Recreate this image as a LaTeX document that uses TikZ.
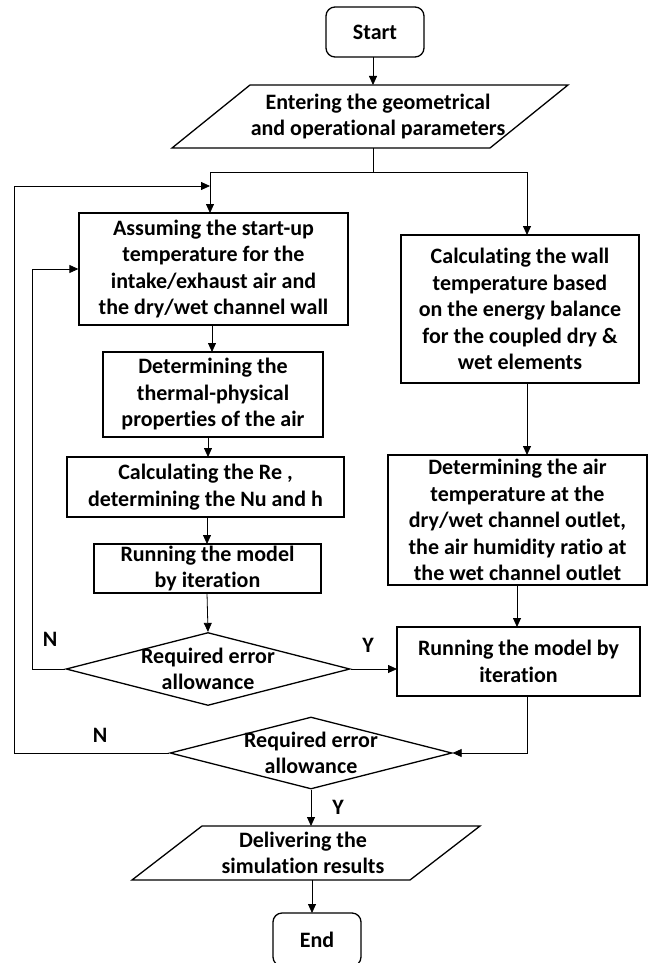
\documentclass[tikz,border=0pt]{standalone}
\usepackage{fontspec}
\setmainfont{Carlito}[Ligatures=NoCommon]
\usetikzlibrary{shapes.geometric,arrows.meta,calc}
\begin{document}
\begin{tikzpicture}[x=1pt,y=-1pt,
  every node/.style={font=\fontsize{22}{26.5}\selectfont\bfseries, align=center, inner sep=0pt},
  term/.style={draw, rounded corners=9pt, line width=1.3pt},
  box/.style={draw, line width=1.3pt},
  shp/.style={draw, line width=1.3pt, line join=miter},
  dia/.style={draw, line width=1.3pt, diamond, aspect=3.9},
  ln/.style={line width=0.8pt},
  arr/.style={line width=0.8pt, -{Triangle[length=9pt,width=8pt]}},
  lab/.style={font=\fontsize{22}{26.5}\selectfont\bfseries}]
\useasboundingbox (0,0) rectangle (653,963);

% left column
\node[term, minimum width=98, minimum height=50] (start) at (375,32) {Start};
\draw[shp] (172,148) -- (250,85) -- (568,85) -- (490,148) -- cycle;
\node[minimum height=63] (enter) at (378,116.5) {Entering the geometrical\\and operational parameters};
\node[box, minimum width=269, minimum height=112] (assume) at (213.5,269)
  {Assuming the start-up\\temperature for the\\intake/exhaust air and\\the dry/wet channel wall};
\node[box, minimum width=220, minimum height=85] (props) at (213,394.5)
  {Determining the\\thermal-physical\\properties of the air};
\node[box, minimum width=277, minimum height=60] (re) at (205.5,487)
  {Calculating the Re ,\\determining the Nu and h};
\node[box, minimum width=227, minimum height=49] (runL) at (207.5,568.5)
  {Running the model\\by iteration};
\node[dia, minimum width=284, minimum height=73,
      label={center:{Required error\\allowance}}] (dia1) at (208,669) {};

% right column
\node[box, minimum width=238, minimum height=148] (wall) at (520,309)
  {Calculating the wall\\temperature based\\on the energy balance\\for the coupled dry \&\\wet elements};
\node[box, minimum width=259, minimum height=130] (air) at (517.5,520)
  {Determining the air\\temperature at the\\dry/wet channel outlet,\\the air humidity ratio at\\the wet channel outlet};
\node[box, minimum width=243, minimum height=69] (runR) at (518.5,661.5)
  {Running the model by\\iteration};

% bottom
\node[dia, minimum width=282, minimum height=72,
      label={center:{Required error\\allowance}}] (dia2) at (311,753) {};
\draw[shp] (132,880) -- (202,826) -- (480,826) -- (410,880) -- cycle;
\node[minimum height=54] (deliver) at (303,853) {Delivering the\\simulation results};
\node[term, minimum width=88, minimum height=53] (end) at (317,939.5) {End};

% labels
\node[lab] (n1) at (50,639) {N};
\node[lab] (y1) at (368,645) {Y};
\node[lab] (n2) at (100,735) {N};
\node[lab] (y2) at (338,807) {Y};

% junction
\coordinate (j1) at (373,172);
\coordinate (oL) at (14,753);
\coordinate (iL) at (32,669);

% connectors
\draw[arr] (373,57) -- (373,85);
\draw[ln] (373,148) -- (j1);
\draw[arr] (j1) -| (210,213);
\draw[arr] (j1) -| (527,235);
\draw[arr] (dia2.west) -- (oL) |- (210,186);
\draw[arr] (dia1.west) -- (iL) |- (assume.west);
\draw[arr] (212,325) -- (212,352);
\draw[arr] (208,437) -- (208,457);
\draw[arr] (207,517) -- (207,544);
\draw[arr] (207,593) -- (dia1.north);
\draw[arr] (dia1.east) -- (397,669);
\draw[arr] (527,383) -- (527,455);
\draw[arr] (517,585) -- (517,627);
\draw[arr] (527,696) |- (dia2.east);
\draw[arr] (dia2.south) -- (311,826);
\draw[arr] (312,880) -- (312,913);
\end{tikzpicture}
\end{document}
